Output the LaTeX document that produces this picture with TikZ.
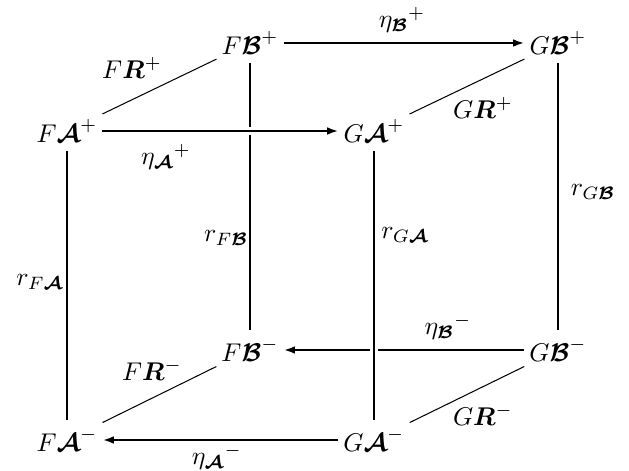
\documentclass[tikz,border=0pt]{standalone}
\usepackage{amsmath,bm}
\usetikzlibrary{arrows.meta}
\begin{document}
\begin{tikzpicture}[x=0.39pt,y=-0.39pt,
  obj/.style={inner xsep=1.8pt, inner ysep=3.3pt},
  lbl/.style={inner sep=0pt},
  edge/.style={line width=0.85pt},
  thinedge/.style={line width=0.4pt},
  arr/.style={edge, -{Latex[length=4.4pt,width=3pt]}},
  halo/.style={preaction={draw=white, line width=2.8pt}}
]
\useasboundingbox (0,0) rectangle (629,471);
% objects
\node[obj] (FBp) at (250,43)  {$F\bm{\mathcal B}^{+}$};
\node[obj] (GBp) at (558,43)  {$G\bm{\mathcal B}^{+}$};
\node[obj] (FAp) at (67,131)  {$F\bm{\mathcal A}^{+}$};
\node[obj] (GAp) at (374,131) {$G\bm{\mathcal A}^{+}$};
\node[obj] (FBm) at (250,350) {$F\bm{\mathcal B}^{-}$};
\node[obj] (GBm) at (558,350) {$G\bm{\mathcal B}^{-}$};
\node[obj] (FAm) at (67,440)  {$F\bm{\mathcal A}^{-}$};
\node[obj] (GAm) at (374,440) {$G\bm{\mathcal A}^{-}$};
% labels
\node[lbl] (lFRp) at (132,68)  {$F\bm{R}^{+}$};
\node[lbl] (lGRp) at (483,108) {$G\bm{R}^{+}$};
\node[lbl] (lFRm) at (152,370) {$F\bm{R}^{-}$};
\node[lbl] (lGRm) at (483,415) {$G\bm{R}^{-}$};
\node[lbl] (lEBp) at (402,20)  {${\eta_{\bm{\mathcal B}}}^{+}$};
\node[lbl] (lEAp) at (166,157) {${\eta_{\bm{\mathcal A}}}^{+}$};
\node[lbl] (lEBm) at (448,327) {${\eta_{\bm{\mathcal B}}}^{-}$};
\node[lbl] (lEAm) at (217,457) {${\eta_{\bm{\mathcal A}}}^{-}$};
\node[lbl] (lrFA) at (40,282)  {$r_{F\bm{\mathcal A}}$};
\node[lbl] (lrFB) at (226,238) {$r_{F\bm{\mathcal B}}$};
\node[lbl] (lrGA) at (405,235) {$r_{G\bm{\mathcal A}}$};
\node[lbl] (lrGB) at (593,192) {$r_{G\bm{\mathcal B}}$};
% diagonal edges
\draw[thinedge] (FAp) -- (FBp);
\draw[thinedge] (GAp) -- (GBp);
\draw[thinedge] (FAm) -- (FBm);
\draw[thinedge] (GAm) -- (GBm);
% vertical edges
\draw[edge] (FAp) -- (FAm);
\draw[edge] (GBp) -- (GBm);
\draw[edge] (FBp) -- (FBm);
% horizontal arrows
\draw[arr] (FBp) -- (GBp);
\draw[arr, halo] (FAp) -- (GAp);
\draw[arr] (GBm) -- (FBm);
\draw[arr] (GAm) -- (FAm);
\draw[edge, halo] (GAp) -- (GAm);
\end{tikzpicture}
\end{document}
